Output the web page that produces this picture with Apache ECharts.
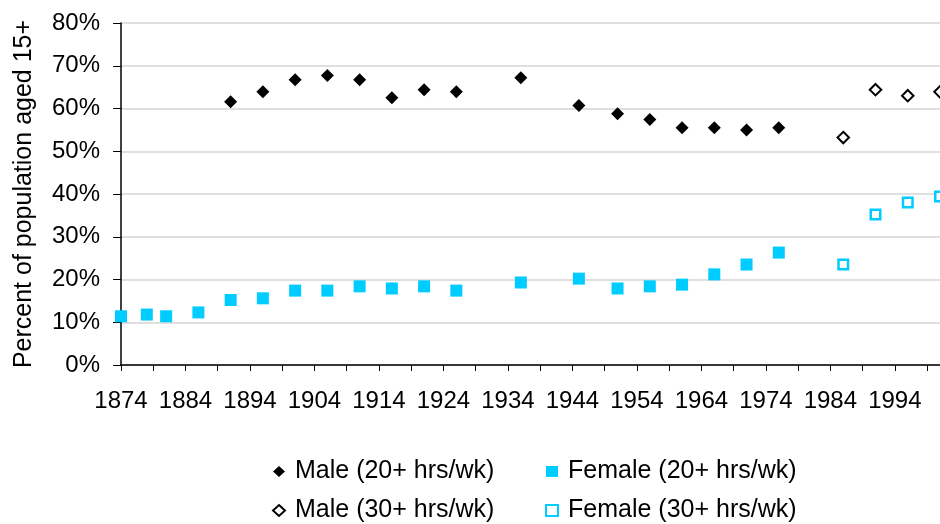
<!DOCTYPE html>
<html>
<head>
<meta charset="utf-8">
<script src="https://cdn.jsdelivr.net/npm/echarts@6/dist/echarts.min.js"></script>
<style>
	html, body { margin: 0; padding: 0; background: #fff; }
	#chart { width: 940px; height: 524px; }
</style>
</head>
<body>
<div id="chart"></div>
<script>
// year range of the category axis (ticks every 5, labels every 10)
const firstYear = 1874;
const lastYear = 2001;

// Male, 20+ hrs/wk
const maleYears = [1891, 1896, 1901, 1906, 1911, 1916, 1921, 1926, 1936, 1945, 1951, 1956, 1961, 1966, 1971, 1976];
const maleValues = [61.6, 63.9, 66.7, 67.7, 66.7, 62.5, 64.4, 63.9, 67.2, 60.7, 58.8, 57.4, 55.5, 55.5, 55.0, 55.5];

// Female, 20+ hrs/wk
const femaleYears = [1874, 1878, 1881, 1886, 1891, 1896, 1901, 1906, 1911, 1916, 1921, 1926, 1936, 1945, 1951, 1956, 1961, 1966, 1971, 1976];
const femaleValues = [11.4, 11.8, 11.4, 12.3, 15.2, 15.6, 17.4, 17.4, 18.4, 17.9, 18.4, 17.4, 19.3, 20.2, 17.9, 18.4, 18.8, 21.2, 23.5, 26.3];

// 30+ hrs/wk
const ftYears = [1986, 1991, 1996, 2001];
const maleFtValues = [53.2, 64.4, 63.0, 63.9];
const femaleFtValues = [23.5, 35.2, 38.0, 39.4];

const years = [];
for (let y = firstYear; y <= lastYear; y++) years.push(String(y));

const pairs = (xs, vs) => xs.map((x, i) => [String(x), vs[i]]);

const font = "'Liberation Sans', Arial, sans-serif";
const cyan = "#00ccff";

// two legend columns, one per sex
const legendCol = (left, names) => ({
	orient: "vertical",
	left: left,
	top: 459,
	height: 65,
	padding: 0,
	itemWidth: 12,
	itemHeight: 11,
	itemGap: 14,
	textStyle: { fontSize: 25, color: "#000", fontFamily: font, padding: [0, 0, 0, 5] },
	data: names,
});

const chart = echarts.init(document.getElementById("chart"));
chart.setOption({
	animation: false,
	backgroundColor: "#fff",
	textStyle: { fontFamily: font, color: "#000" },
	grid: { left: 121, right: -4, top: 23, bottom: 159 },
	xAxis: {
		type: "category",
		data: years,
		boundaryGap: false,
		axisLine: { lineStyle: { color: "#000", width: 1.5 } },
		axisTick: { interval: 4, length: 6, lineStyle: { color: "#000" } },
		axisLabel: { interval: 9, margin: 24, fontSize: 24, color: "#000", fontFamily: font },
		splitLine: { show: false },
	},
	yAxis: {
		type: "value",
		min: 0,
		max: 80,
		interval: 10,
		name: "Percent of population aged 15+",
		nameLocation: "middle",
		nameGap: 84,
		nameTextStyle: { fontSize: 25, color: "#000", fontFamily: font },
		axisLine: { show: true, lineStyle: { color: "#000", width: 1.5 } },
		axisTick: { show: true, length: 8, lineStyle: { color: "#000" } },
		axisLabel: { formatter: "{value}%", margin: 21, fontSize: 24, color: "#000", fontFamily: font },
		splitLine: { lineStyle: { color: "#d4d4d4", width: 1.5 } },
	},
	legend: [
		legendCol(272, ["Male (20+ hrs/wk)", "Male (30+ hrs/wk)"]),
		legendCol(545, ["Female (20+ hrs/wk)", "Female (30+ hrs/wk)"]),
	],
	series: [
		{
			name: "Male (20+ hrs/wk)",
			type: "scatter",
			symbol: "diamond",
			symbolSize: 13,
			itemStyle: { color: "#000", opacity: 1 },
			data: pairs(maleYears, maleValues),
		},
		{
			name: "Female (20+ hrs/wk)",
			type: "scatter",
			symbol: "rect",
			symbolSize: 12,
			itemStyle: { color: cyan, opacity: 1 },
			data: pairs(femaleYears, femaleValues),
		},
		{
			name: "Male (30+ hrs/wk)",
			type: "scatter",
			symbol: "diamond",
			symbolSize: 11.5,
			clip: false,
			itemStyle: { color: "#fff", borderColor: "#000", borderWidth: 2, opacity: 1 },
			data: pairs(ftYears, maleFtValues),
		},
		{
			name: "Female (30+ hrs/wk)",
			type: "scatter",
			symbol: "rect",
			symbolSize: 9.5,
			clip: false,
			itemStyle: { color: "#fff", borderColor: cyan, borderWidth: 2.5, opacity: 1 },
			data: pairs(ftYears, femaleFtValues),
		},
	],
});
</script>
</body>
</html>
